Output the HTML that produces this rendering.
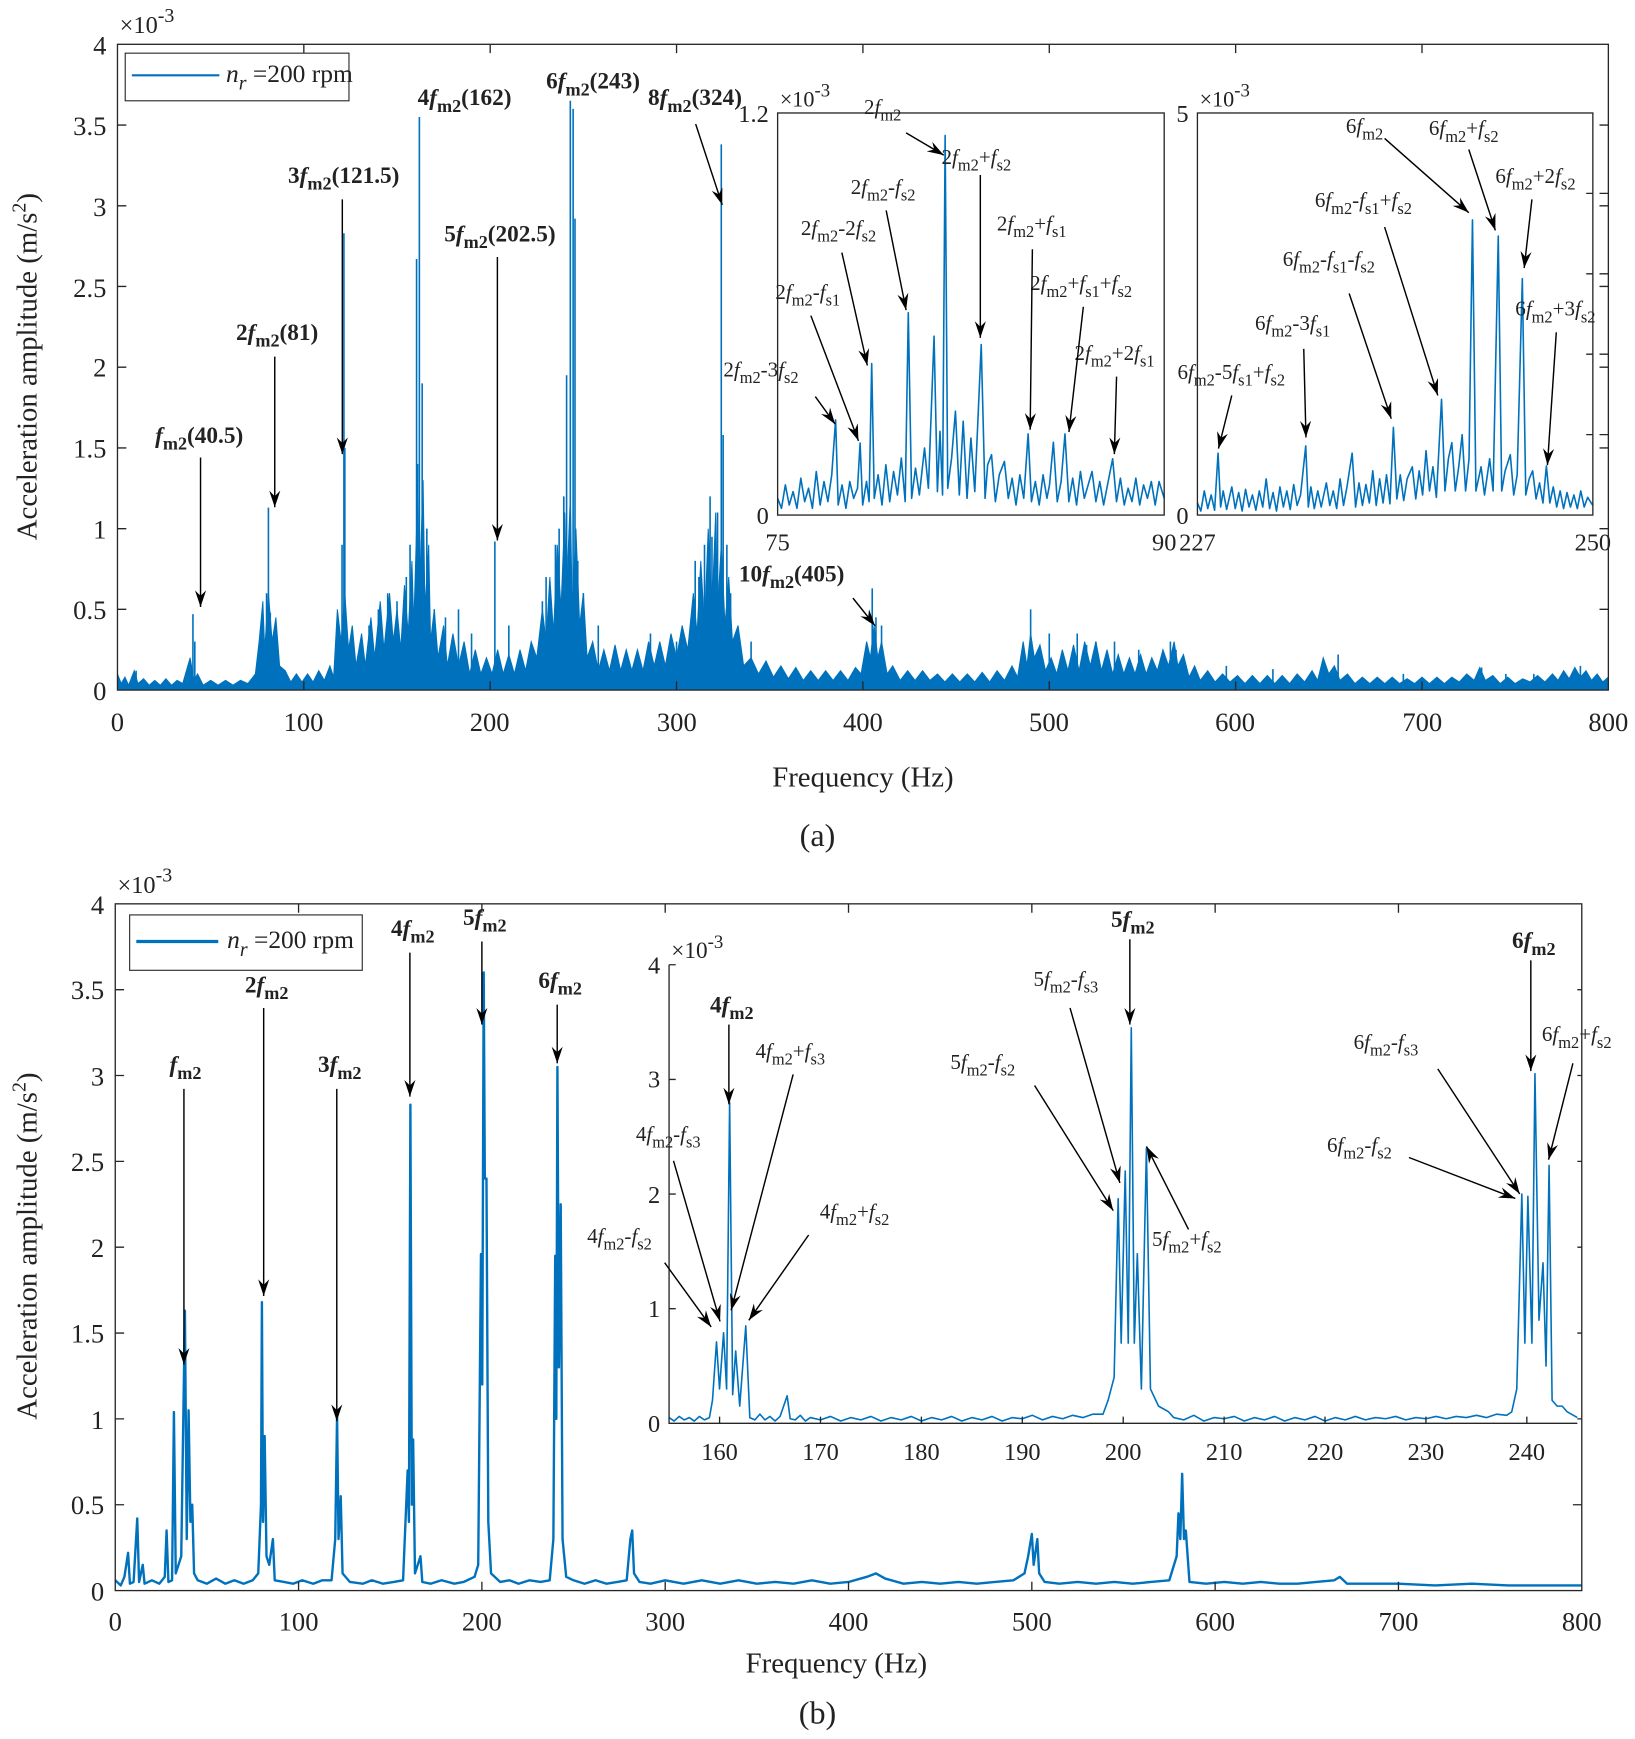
<!DOCTYPE html>
<html><head><meta charset="utf-8"><style>
html,body{margin:0;padding:0;background:#fff}
svg{display:block}
text{font-family:"Liberation Serif",serif;fill:#222}
.i{font-style:italic}
.s{font-size:0.78em}
.a{font-size:19px}
.b{font-size:21px;font-weight:bold}
.tk{font-size:24px}
.tk2{font-size:22px}
.ar{stroke:#000;stroke-width:1.3;fill:none}
.dl{fill:none;stroke:#0072BD;stroke-width:1.6;vector-effect:non-scaling-stroke;stroke-linejoin:round}
.dl2{fill:none;stroke:#0072BD;stroke-width:2.4;vector-effect:non-scaling-stroke;stroke-linejoin:round}
.ax{fill:none;stroke:#262626;stroke-width:1.2}
</style></head><body>
<svg width="1635" height="1739" viewBox="0 0 1476 1570" xmlns="http://www.w3.org/2000/svg">
<defs>
<marker id="m" markerUnits="userSpaceOnUse" markerWidth="16" markerHeight="12" refX="15" refY="6" orient="auto">
<path d="M0,1 L15,6 L0,11 L5,6 Z" fill="#000"/>
</marker>
</defs>

<!-- ================= (a) ================= -->
<g transform="translate(106,623) scale(1.6825,-145.75)">
<polygon fill="#0072BD" stroke="#0072BD" stroke-width="1" vector-effect="non-scaling-stroke" points="0,.1 2,.04 4,.08 6,.03 9,.12 11,.04 14,.07 17,.03 20,.06 23,.03 26,.07 29,.03 32,.06 35,.04 37,.12 39,.2 41,.06 43,.1 46,.03 50,.06 54,.03 58,.06 62,.03 66,.06 70,.04 74,.1 76,.3 78,.55 79,.25 81,.6 83,.3 85,.45 87,.15 90,.12 93,.05 96,.1 99,.05 102,.1 105,.05 108,.12 111,.06 114,.15 116,.08 118,.5 120,.3 122,.6 124,.25 126,.4 128,.15 131,.35 133,.15 136,.45 138,.2 141,.55 143,.25 146,.6 148,.3 150,.5 152,.25 154,.65 156,.35 158,.8 159,.4 161,1.2 162,.6 164,1.3 165,.5 167,.9 168,.3 170,.5 172,.2 175,.4 177,.15 180,.35 183,.15 186,.3 189,.1 192,.25 195,.1 198,.2 201,.1 204,.25 207,.1 210,.22 213,.1 216,.25 219,.12 222,.3 225,.2 228,.5 230,.3 232,.7 234,.35 236,.9 238,.5 240,1.1 241,.6 243,1.2 244,.5 246,1.0 248,.4 250,.6 252,.2 255,.3 258,.12 261,.25 264,.12 267,.28 270,.12 273,.25 276,.12 279,.25 282,.12 285,.3 288,.15 291,.3 294,.15 297,.35 300,.2 303,.4 306,.25 309,.6 311,.35 313,.8 315,.4 317,1.0 319,.5 321,1.1 322,.5 324,.9 326,.4 328,.7 330,.3 333,.4 336,.15 340,.2 344,.1 348,.18 352,.08 356,.15 360,.07 364,.14 368,.06 372,.12 376,.06 380,.12 384,.06 388,.12 392,.06 396,.14 399,.1 402,.3 404,.2 406,.4 408,.2 410,.3 413,.1 416,.15 420,.06 424,.12 428,.06 432,.12 436,.06 440,.1 444,.05 448,.1 452,.05 456,.1 460,.05 464,.11 468,.05 472,.12 476,.06 480,.15 483,.08 486,.3 488,.15 490,.35 492,.2 495,.28 498,.12 501,.2 504,.1 507,.25 510,.12 513,.28 516,.12 519,.3 522,.15 525,.3 528,.12 531,.25 534,.1 537,.22 540,.1 543,.2 546,.1 549,.22 552,.1 555,.2 558,.12 561,.25 564,.15 567,.3 569,.15 572,.22 575,.08 578,.15 581,.06 585,.12 589,.05 593,.1 597,.05 601,.09 605,.04 609,.09 613,.04 617,.09 621,.04 625,.09 629,.04 633,.1 637,.05 641,.12 644,.06 647,.2 650,.1 653,.15 656,.06 660,.1 664,.04 668,.08 672,.04 676,.08 680,.04 684,.08 688,.04 692,.07 696,.04 700,.08 704,.04 708,.08 712,.04 716,.08 720,.05 724,.1 728,.06 731,.14 734,.06 738,.09 742,.04 746,.08 750,.04 754,.07 758,.05 762,.09 766,.05 770,.1 773,.06 776,.12 779,.07 782,.14 785,.08 788,.12 791,.06 794,.1 797,.05 800,.08 800,0 0,0"/>
<path class="dl" d="M40.5 0V.47M41.5 0V.3M81 0V1.13M80 0V.6M82 0V.48M121.5 0V2.83M122 0V1.5M120.5 0V.9M162 0V3.55M160.5 0V2.67M163.5 0V1.9M161 0V1.4M202.5 0V.92M243 0V3.65M244.5 0V3.6M245.5 0V2.92M241 0V1.95M239.5 0V1.2M324 0V3.38M325 0V1.58M322 0V1.1M319 0V.95M405 0V.63M407 0V.45M490 0V.5M10 0V.12M568 0V.25M525 0V.3M548 0V.25M655 0V.22M176 0V.45M150 0V.55M190 0V.35M300 0V.3M140 0V.5M145 0V.6M155 0V.7M135 0V.4M230 0V.7M235 0V.9M310 0V.8M315 0V.9M183 0V.5M210 0V.4M258 0V.4M286 0V.35M340 0V.3M500 0V.35M515 0V.35M535 0V.3M745 0V.1M732 0V.14M785 0V.15M170 0V.5M228 0V.55M250 0V.6M318 0V1.2M327 0V.9M410 0V.4M520 0V.28M565 0V.3M595 0V.15M620 0V.13M690 0V.1M760 0V.1M157 0V.9M166 0V1.0M237 0V1.0M247 0V.8M312 0V.7M329 0V.6"/>
</g>
<rect class="ax" x="106" y="40" width="1346" height="583"/>
<path class="ax" d="M274.25 623v-8M442.5 623v-8M610.75 623v-8M779 623v-8M947.25 623v-8M1115.5 623v-8M1283.75 623v-8M274.25 40v8M442.5 40v8M610.75 40v8M779 40v8M947.25 40v8M1115.5 40v8M1283.75 40v8M106 550.1h8M106 477.3h8M106 404.4h8M106 331.5h8M106 258.6h8M106 185.8h8M106 112.9h8M1452 550.1h-8M1452 477.3h-8M1452 404.4h-8M1452 331.5h-8M1452 258.6h-8M1452 185.8h-8M1452 112.9h-8"/>
<g class="tk" text-anchor="middle">
<text x="106" y="660">0</text><text x="274" y="660">100</text><text x="442" y="660">200</text><text x="611" y="660">300</text><text x="779" y="660">400</text><text x="947" y="660">500</text><text x="1115" y="660">600</text><text x="1284" y="660">700</text><text x="1452" y="660">800</text>
</g>
<g class="tk" text-anchor="end">
<text x="96" y="632">0</text><text x="96" y="559">0.5</text><text x="96" y="486">1</text><text x="96" y="413">1.5</text><text x="96" y="340">2</text><text x="96" y="268">2.5</text><text x="96" y="195">3</text><text x="96" y="122">3.5</text><text x="96" y="49">4</text>
</g>
<text x="108" y="30" font-size="22">×10<tspan dy="-10" font-size="18">-3</tspan></text>
<rect x="113" y="48" width="202" height="43" fill="#fff" stroke="#262626"/>
<line x1="119" y1="68" x2="198" y2="68" stroke="#0072BD" stroke-width="2"/>
<text x="204" y="74" font-size="23"><tspan class="i">n</tspan><tspan class="i s" dy="7">r</tspan><tspan dy="-7"> =200 rpm</tspan></text>
<text x="779" y="710" font-size="26" text-anchor="middle">Frequency (Hz)</text>
<text x="33" y="331" font-size="26" text-anchor="middle" transform="rotate(-90 33 331)">Acceleration amplitude (m/s<tspan dy="-10" font-size="18">2</tspan><tspan dy="10">)</tspan></text>
<text x="738" y="764" font-size="29" text-anchor="middle">(a)</text>

<g class="b">
<text x="140" y="400"><tspan class="i">f</tspan><tspan class="s" dy="6">m2</tspan><tspan dy="-6">(40.5)</tspan></text>
<text x="213" y="307">2<tspan class="i">f</tspan><tspan class="s" dy="6">m2</tspan><tspan dy="-6">(81)</tspan></text>
<text x="260" y="165">3<tspan class="i">f</tspan><tspan class="s" dy="6">m2</tspan><tspan dy="-6">(121.5)</tspan></text>
<text x="377" y="95">4<tspan class="i">f</tspan><tspan class="s" dy="6">m2</tspan><tspan dy="-6">(162)</tspan></text>
<text x="401" y="218">5<tspan class="i">f</tspan><tspan class="s" dy="6">m2</tspan><tspan dy="-6">(202.5)</tspan></text>
<text x="493" y="80">6<tspan class="i">f</tspan><tspan class="s" dy="6">m2</tspan><tspan dy="-6">(243)</tspan></text>
<text x="585" y="95">8<tspan class="i">f</tspan><tspan class="s" dy="6">m2</tspan><tspan dy="-6">(324)</tspan></text>
<text x="667" y="525">10<tspan class="i">f</tspan><tspan class="s" dy="6">m2</tspan><tspan dy="-6">(405)</tspan></text>
</g>
<g class="ar" marker-end="url(#m)">
<line x1="181" y1="413" x2="181" y2="548"/><line x1="248" y1="322" x2="248" y2="458"/><line x1="309" y1="180" x2="309" y2="410"/><line x1="449" y1="232" x2="449" y2="488"/><line x1="628" y1="112" x2="652" y2="185"/><line x1="770" y1="540" x2="790" y2="565"/>
</g>

<!-- inset a1 -->
<rect x="702" y="102" width="349" height="363" fill="#fff"/>
<g transform="translate(702,465) scale(23.267,-302.5)">
<polyline class="dl" points="0,.05 .15,.02 .3,.09 .45,.03 .6,.07 .75,.02 .9,.11 1.05,.04 1.2,.08 1.35,.02 1.5,.13 1.65,.03 1.8,.1 1.95,.04 2.1,.12 2.25,.284 2.35,.03 2.5,.09 2.65,.02 2.8,.1 2.95,.05 3.1,.08 3.2,.215 3.3,.03 3.45,.1 3.55,.04 3.65,.452 3.75,.05 3.9,.12 4.05,.03 4.2,.15 4.35,.04 4.5,.13 4.65,.06 4.8,.17 4.95,.04 5.07,.604 5.2,.05 5.35,.14 5.5,.06 5.7,.2 5.85,.08 6.07,.534 6.2,.07 6.3,.25 6.4,.06 6.5,1.133 6.6,.08 6.75,.17 6.9,.31 7.05,.06 7.2,.28 7.35,.05 7.5,.23 7.65,.07 7.9,.509 8.05,.05 8.15,.15 8.3,.18 8.45,.04 8.6,.12 8.8,.16 8.95,.05 9.1,.11 9.25,.03 9.4,.12 9.55,.05 9.72,.242 9.85,.04 10,.1 10.15,.03 10.3,.12 10.45,.05 10.55,.09 10.7,.217 10.85,.04 11,.1 11.15,.242 11.3,.04 11.45,.11 11.6,.03 11.75,.13 11.9,.05 12.05,.09 12.2,.13 12.35,.04 12.5,.1 12.65,.03 12.8,.09 13,.168 13.15,.04 13.3,.11 13.45,.03 13.6,.08 13.75,.04 13.9,.11 14.05,.03 14.2,.09 14.35,.05 14.5,.1 14.65,.03 14.8,.1 15,.05"/>
</g>
<rect class="ax" x="702" y="102" width="349" height="363"/>
<g class="tk2"><text x="694" y="473" text-anchor="end">0</text><text x="694" y="110" text-anchor="end">1.2</text><text x="702" y="497" text-anchor="middle">75</text><text x="1051" y="497" text-anchor="middle">90</text></g>
<text x="704" y="96" font-size="20">×10<tspan dy="-9" font-size="17">-3</tspan></text>
<g class="a">
<text x="780" y="103">2<tspan class="i">f</tspan><tspan class="s" dy="6">m2</tspan></text>
<text x="850" y="148">2<tspan class="i">f</tspan><tspan class="s" dy="6">m2</tspan><tspan dy="-6">+</tspan><tspan class="i">f</tspan><tspan class="s" dy="6">s2</tspan></text>
<text x="768" y="175">2<tspan class="i">f</tspan><tspan class="s" dy="6">m2</tspan><tspan dy="-6">-</tspan><tspan class="i">f</tspan><tspan class="s" dy="6">s2</tspan></text>
<text x="723" y="212">2<tspan class="i">f</tspan><tspan class="s" dy="6">m2</tspan><tspan dy="-6">-2</tspan><tspan class="i">f</tspan><tspan class="s" dy="6">s2</tspan></text>
<text x="900" y="208">2<tspan class="i">f</tspan><tspan class="s" dy="6">m2</tspan><tspan dy="-6">+</tspan><tspan class="i">f</tspan><tspan class="s" dy="6">s1</tspan></text>
<text x="700" y="270">2<tspan class="i">f</tspan><tspan class="s" dy="6">m2</tspan><tspan dy="-6">-</tspan><tspan class="i">f</tspan><tspan class="s" dy="6">s1</tspan></text>
<text x="930" y="262">2<tspan class="i">f</tspan><tspan class="s" dy="6">m2</tspan><tspan dy="-6">+</tspan><tspan class="i">f</tspan><tspan class="s" dy="6">s1</tspan><tspan dy="-6">+</tspan><tspan class="i">f</tspan><tspan class="s" dy="6">s2</tspan></text>
<text x="970" y="325">2<tspan class="i">f</tspan><tspan class="s" dy="6">m2</tspan><tspan dy="-6">+2</tspan><tspan class="i">f</tspan><tspan class="s" dy="6">s1</tspan></text>
<text x="653" y="340">2<tspan class="i">f</tspan><tspan class="s" dy="6">m2</tspan><tspan dy="-6">-3</tspan><tspan class="i">f</tspan><tspan class="s" dy="6">s2</tspan></text>
</g>
<g class="ar" marker-end="url(#m)">
<line x1="818" y1="120" x2="852" y2="140"/><line x1="885" y1="158" x2="885" y2="305"/><line x1="800" y1="190" x2="818" y2="280"/><line x1="760" y1="228" x2="783" y2="330"/><line x1="932" y1="225" x2="930" y2="388"/><line x1="732" y1="285" x2="775" y2="398"/><line x1="978" y1="277" x2="965" y2="390"/><line x1="1008" y1="340" x2="1006" y2="410"/><line x1="736" y1="358" x2="754" y2="383"/>
</g>

<!-- inset a2 -->
<rect x="1081" y="102" width="357" height="363" fill="#fff"/>
<g transform="translate(1081,465) scale(15.52,-72.6)">
<polyline class="dl" points="0,.15 .2,.05 .4,.3 .6,.08 .8,.25 1,.06 1.2,.77 1.35,.1 1.5,.3 1.7,.07 2,.35 2.2,.08 2.4,.28 2.6,.05 2.8,.32 3,.1 3.2,.25 3.4,.06 3.6,.3 3.8,.1 4,.45 4.2,.08 4.4,.28 4.6,.05 4.8,.35 5,.1 5.2,.3 5.4,.07 5.6,.38 5.8,.12 6,.25 6.3,.86 6.45,.1 6.6,.35 6.8,.08 7,.3 7.2,.1 7.5,.4 7.7,.12 7.9,.3 8.1,.08 8.3,.45 8.5,.12 8.7,.35 9,.77 9.2,.1 9.4,.4 9.6,.12 9.8,.38 10,.15 10.2,.55 10.4,.12 10.6,.45 10.8,.15 11,.5 11.2,.14 11.4,1.09 11.6,.2 11.8,.5 12,.18 12.2,.45 12.5,.6 12.7,.2 12.9,.55 13.1,.25 13.3,.8 13.5,.3 13.7,.6 13.9,.22 14.2,1.44 14.4,.3 14.6,.7 14.8,.9 15,.3 15.2,.6 15.4,1.0 15.6,.3 15.8,.7 16,3.67 16.2,.3 16.5,.6 16.7,.25 17,.7 17.2,.3 17.5,3.47 17.7,.3 17.9,.55 18.2,.75 18.4,.25 18.6,.5 18.9,2.94 19.1,.25 19.3,.45 19.5,.55 19.7,.2 19.9,.4 20.1,.15 20.3,.61 20.5,.15 20.7,.35 20.9,.1 21.1,.3 21.3,.08 21.5,.28 21.7,.1 21.9,.25 22.1,.08 22.3,.3 22.5,.1 22.7,.22 23,.12"/>
</g>
<rect class="ax" x="1081" y="102" width="357" height="363"/>
<path class="ax" d="M1438 392.4h-6M1438 319.8h-6M1438 247.2h-6M1438 174.6h-6M1452 392.4h-8M1452 319.8h-8M1452 247.2h-8M1452 174.6h-8"/>
<g class="tk2"><text x="1073" y="473" text-anchor="end">0</text><text x="1073" y="110" text-anchor="end">5</text><text x="1081" y="497" text-anchor="middle">227</text><text x="1438" y="497" text-anchor="middle">250</text></g>
<text x="1083" y="96" font-size="20">×10<tspan dy="-9" font-size="17">-3</tspan></text>
<g class="a">
<text x="1215" y="120">6<tspan class="i">f</tspan><tspan class="s" dy="6">m2</tspan></text>
<text x="1290" y="122">6<tspan class="i">f</tspan><tspan class="s" dy="6">m2</tspan><tspan dy="-6">+</tspan><tspan class="i">f</tspan><tspan class="s" dy="6">s2</tspan></text>
<text x="1350" y="165">6<tspan class="i">f</tspan><tspan class="s" dy="6">m2</tspan><tspan dy="-6">+2</tspan><tspan class="i">f</tspan><tspan class="s" dy="6">s2</tspan></text>
<text x="1187" y="187">6<tspan class="i">f</tspan><tspan class="s" dy="6">m2</tspan><tspan dy="-6">-</tspan><tspan class="i">f</tspan><tspan class="s" dy="6">s1</tspan><tspan dy="-6">+</tspan><tspan class="i">f</tspan><tspan class="s" dy="6">s2</tspan></text>
<text x="1158" y="240">6<tspan class="i">f</tspan><tspan class="s" dy="6">m2</tspan><tspan dy="-6">-</tspan><tspan class="i">f</tspan><tspan class="s" dy="6">s1</tspan><tspan dy="-6">-</tspan><tspan class="i">f</tspan><tspan class="s" dy="6">s2</tspan></text>
<text x="1133" y="298">6<tspan class="i">f</tspan><tspan class="s" dy="6">m2</tspan><tspan dy="-6">-3</tspan><tspan class="i">f</tspan><tspan class="s" dy="6">s1</tspan></text>
<text x="1368" y="285">6<tspan class="i">f</tspan><tspan class="s" dy="6">m2</tspan><tspan dy="-6">+3</tspan><tspan class="i">f</tspan><tspan class="s" dy="6">s2</tspan></text>
<text x="1063" y="342">6<tspan class="i">f</tspan><tspan class="s" dy="6">m2</tspan><tspan dy="-6">-5</tspan><tspan class="i">f</tspan><tspan class="s" dy="6">s1</tspan><tspan dy="-6">+</tspan><tspan class="i">f</tspan><tspan class="s" dy="6">s2</tspan></text>
</g>
<g class="ar" marker-end="url(#m)">
<line x1="1250" y1="125" x2="1326" y2="192"/><line x1="1326" y1="135" x2="1350" y2="208"/><line x1="1383" y1="180" x2="1376" y2="242"/><line x1="1250" y1="205" x2="1298" y2="357"/><line x1="1218" y1="265" x2="1256" y2="378"/><line x1="1177" y1="315" x2="1179" y2="395"/><line x1="1405" y1="300" x2="1397" y2="420"/><line x1="1112" y1="357" x2="1100" y2="405"/>
</g>

<!-- ================= (b) ================= -->
<g transform="translate(104,1436) scale(1.655,-155)">
<polyline class="dl2" points="0,.06 3,.03 5,.08 7,.22 8,.04 10,.05 12,.42 13,.05 15,.15 16,.04 20,.06 24,.04 27,.08 28,.35 29,.05 31,.06 32,1.04 33,.1 36,.2 38,1.63 39,.3 40,1.05 41,.4 42,.5 43,.1 45,.06 50,.04 55,.07 60,.04 65,.06 70,.04 75,.06 78,.1 79.5,.5 80,1.68 80.6,.4 81.5,.9 82.5,.2 84,.15 86,.3 87,.06 92,.05 97,.04 102,.06 108,.04 113,.06 118,.06 120,.3 121,1.02 121.8,.3 123,.55 124,.1 128,.05 135,.04 140,.06 146,.04 152,.05 157,.06 159.5,.7 160.2,.4 161,2.83 161.8,.5 162.5,.88 163.5,.1 166.5,.2 167.5,.05 172,.04 178,.06 185,.04 190,.05 196,.08 198,.15 199.5,1.96 200.2,1.2 201,3.6 201.6,2.4 202.5,2.4 203.5,.4 205,.1 210,.05 215,.06 220,.04 226,.06 232,.05 237,.06 239,.3 240,1.95 240.6,1.0 241.2,3.05 242,1.3 243,2.25 244,.3 246,.08 250,.06 256,.04 262,.06 268,.04 274,.05 279,.06 281,.3 282,.35 283,.1 286,.05 292,.04 300,.06 310,.04 320,.06 330,.04 340,.06 350,.04 360,.05 370,.04 380,.06 390,.04 400,.05 410,.08 415,.1 420,.07 430,.04 440,.05 450,.04 460,.05 470,.04 480,.05 490,.06 496,.1 498,.2 500,.33 501,.15 503,.3 504,.1 507,.05 515,.04 525,.05 535,.04 545,.05 555,.04 565,.05 575,.06 579,.2 580,.45 581,.3 582,.68 583,.3 584,.35 586,.05 595,.04 605,.05 615,.04 625,.05 635,.04 645,.04 655,.05 665,.06 668,.08 672,.04 685,.04 700,.04 720,.03 740,.04 760,.03 780,.03 800,.03"/>
</g>
<rect class="ax" x="104" y="816" width="1324" height="620"/>
<path class="ax" d="M269.5 1436v-8M435 1436v-8M600.5 1436v-8M766 1436v-8M931.5 1436v-8M1097 1436v-8M1262.5 1436v-8M269.5 816v8M435 816v8M600.5 816v8M766 816v8M931.5 816v8M1097 816v8M1262.5 816v8M104 1358.5h8M104 1281h8M104 1203.5h8M104 1126h8M104 1048.5h8M104 971h8M104 893.5h8M1428 1358.5h-8M1428 1281h-8M1428 1203.5h-8M1428 1126h-8M1428 1048.5h-8M1428 971h-8M1428 893.5h-8"/>
<g class="tk" text-anchor="middle">
<text x="104" y="1472">0</text><text x="269.5" y="1472">100</text><text x="435" y="1472">200</text><text x="600.5" y="1472">300</text><text x="766" y="1472">400</text><text x="931.5" y="1472">500</text><text x="1097" y="1472">600</text><text x="1262.5" y="1472">700</text><text x="1428" y="1472">800</text>
</g>
<g class="tk" text-anchor="end">
<text x="94" y="1445">0</text><text x="94" y="1367">0.5</text><text x="94" y="1290">1</text><text x="94" y="1212">1.5</text><text x="94" y="1135">2</text><text x="94" y="1057">2.5</text><text x="94" y="980">3</text><text x="94" y="902">3.5</text><text x="94" y="825">4</text>
</g>
<text x="106" y="806" font-size="22">×10<tspan dy="-10" font-size="18">-3</tspan></text>
<rect x="117" y="826" width="210" height="50" fill="#fff" stroke="#262626"/>
<line x1="123" y1="850" x2="197" y2="850" stroke="#0072BD" stroke-width="3"/>
<text x="205" y="856" font-size="23"><tspan class="i">n</tspan><tspan class="i s" dy="7">r</tspan><tspan dy="-7"> =200 rpm</tspan></text>
<text x="755" y="1510" font-size="26" text-anchor="middle">Frequency (Hz)</text>
<text x="33" y="1125" font-size="26" text-anchor="middle" transform="rotate(-90 33 1125)">Acceleration amplitude (m/s<tspan dy="-10" font-size="18">2</tspan><tspan dy="10">)</tspan></text>
<text x="738" y="1556" font-size="29" text-anchor="middle">(b)</text>
<g class="b">
<text x="153" y="968"><tspan class="i">f</tspan><tspan class="s" dy="6">m2</tspan></text>
<text x="221" y="896">2<tspan class="i">f</tspan><tspan class="s" dy="6">m2</tspan></text>
<text x="287" y="968">3<tspan class="i">f</tspan><tspan class="s" dy="6">m2</tspan></text>
<text x="353" y="845">4<tspan class="i">f</tspan><tspan class="s" dy="6">m2</tspan></text>
<text x="418" y="835">5<tspan class="i">f</tspan><tspan class="s" dy="6">m2</tspan></text>
<text x="486" y="892">6<tspan class="i">f</tspan><tspan class="s" dy="6">m2</tspan></text>
</g>
<g class="ar" marker-end="url(#m)">
<line x1="166" y1="983" x2="166" y2="1232"/><line x1="238" y1="910" x2="238" y2="1170"/><line x1="304" y1="983" x2="304" y2="1283"/><line x1="370" y1="860" x2="370" y2="990"/><line x1="435" y1="850" x2="435" y2="925"/><line x1="503" y1="907" x2="503" y2="960"/>
</g>

<!-- inset b -->
<rect x="604" y="866" width="820" height="419" fill="#fff"/>
<g transform="translate(604,1285) scale(9.111,-103.5)">
<polyline class="dl" points="0,.05 .5,.02 1,.06 1.5,.03 2,.05 2.5,.02 3,.06 3.5,.03 4,.05 4.3,.2 4.7,.71 5,.3 5.4,.79 5.7,.3 6,2.8 6.3,.25 6.6,.63 7,.15 7.6,.85 8,.05 8.5,.03 9,.08 9.5,.03 10,.06 10.5,.02 11,.06 11.7,.24 12,.04 12.5,.03 13,.07 13.5,.02 14,.05 15,.03 16,.06 17,.02 18,.05 19,.03 20,.06 21,.02 22,.05 23,.03 24,.06 25,.02 26,.05 27,.03 28,.06 29,.02 30,.05 31,.03 32,.06 33,.02 34,.05 35,.04 36,.07 37,.03 38,.06 39,.04 40,.07 41,.05 42,.08 43,.08 43.5,.2 44.1,.4 44.5,1.96 44.8,.7 45.2,2.2 45.5,.7 45.8,3.45 46.1,.7 46.4,1.48 46.8,.3 47.3,2.4 47.7,.3 48.5,.15 49.5,.1 50,.05 51,.03 52,.07 53,.02 54,.05 55,.04 56,.06 57,.02 58,.05 59,.03 60,.06 61,.02 62,.05 63,.03 64,.06 65,.02 66,.05 67,.03 68,.06 69,.03 70,.05 71,.04 72,.06 73,.03 74,.05 75,.04 76,.06 77,.04 78,.06 79,.05 80,.07 81,.05 82,.08 83,.07 83.5,.1 84,.3 84.5,2.0 84.8,.7 85.1,1.98 85.5,.7 85.8,3.05 86.2,.9 86.6,1.4 86.9,.5 87.2,2.25 87.5,.2 88,.15 88.5,.15 89,.1 90,.05"/>
</g>
<path class="ax" d="M604 871V1285H1424M649.6 1285v-6M740.7 1285v-6M831.8 1285v-6M922.9 1285v-6M1014 1285v-6M1105.1 1285v-6M1196.2 1285v-6M1287.3 1285v-6M1378.4 1285v-6M604 1181.5h6M604 1078h6M604 974.5h6M604 871h6"/>
<g class="tk2" text-anchor="middle">
<text x="649.6" y="1318">160</text><text x="740.7" y="1318">170</text><text x="831.8" y="1318">180</text><text x="922.9" y="1318">190</text><text x="1014" y="1318">200</text><text x="1105.1" y="1318">210</text><text x="1196.2" y="1318">220</text><text x="1287.3" y="1318">230</text><text x="1378.4" y="1318">240</text>
</g>
<g class="tk2" text-anchor="end">
<text x="596" y="1293">0</text><text x="596" y="1189">1</text><text x="596" y="1086">2</text><text x="596" y="982">3</text><text x="596" y="879">4</text>
</g>
<text x="606" y="865" font-size="21">×10<tspan dy="-9" font-size="17">-3</tspan></text>
<g class="b">
<text x="641" y="914">4<tspan class="i">f</tspan><tspan class="s" dy="6">m2</tspan></text>
<text x="1003" y="837">5<tspan class="i">f</tspan><tspan class="s" dy="6">m2</tspan></text>
<text x="1365" y="856">6<tspan class="i">f</tspan><tspan class="s" dy="6">m2</tspan></text>
</g>
<g class="a">
<text x="682" y="955">4<tspan class="i">f</tspan><tspan class="s" dy="6">m2</tspan><tspan dy="-6">+</tspan><tspan class="i">f</tspan><tspan class="s" dy="6">s3</tspan></text>
<text x="574" y="1030">4<tspan class="i">f</tspan><tspan class="s" dy="6">m2</tspan><tspan dy="-6">-</tspan><tspan class="i">f</tspan><tspan class="s" dy="6">s3</tspan></text>
<text x="740" y="1100">4<tspan class="i">f</tspan><tspan class="s" dy="6">m2</tspan><tspan dy="-6">+</tspan><tspan class="i">f</tspan><tspan class="s" dy="6">s2</tspan></text>
<text x="530" y="1122">4<tspan class="i">f</tspan><tspan class="s" dy="6">m2</tspan><tspan dy="-6">-</tspan><tspan class="i">f</tspan><tspan class="s" dy="6">s2</tspan></text>
<text x="933" y="890">5<tspan class="i">f</tspan><tspan class="s" dy="6">m2</tspan><tspan dy="-6">-</tspan><tspan class="i">f</tspan><tspan class="s" dy="6">s3</tspan></text>
<text x="858" y="965">5<tspan class="i">f</tspan><tspan class="s" dy="6">m2</tspan><tspan dy="-6">-</tspan><tspan class="i">f</tspan><tspan class="s" dy="6">s2</tspan></text>
<text x="1040" y="1125">5<tspan class="i">f</tspan><tspan class="s" dy="6">m2</tspan><tspan dy="-6">+</tspan><tspan class="i">f</tspan><tspan class="s" dy="6">s2</tspan></text>
<text x="1222" y="947">6<tspan class="i">f</tspan><tspan class="s" dy="6">m2</tspan><tspan dy="-6">-</tspan><tspan class="i">f</tspan><tspan class="s" dy="6">s3</tspan></text>
<text x="1198" y="1040">6<tspan class="i">f</tspan><tspan class="s" dy="6">m2</tspan><tspan dy="-6">-</tspan><tspan class="i">f</tspan><tspan class="s" dy="6">s2</tspan></text>
<text x="1392" y="940">6<tspan class="i">f</tspan><tspan class="s" dy="6">m2</tspan><tspan dy="-6">+</tspan><tspan class="i">f</tspan><tspan class="s" dy="6">s2</tspan></text>
</g>
<g class="ar" marker-end="url(#m)">
<line x1="658" y1="925" x2="658" y2="997"/><line x1="716" y1="970" x2="660" y2="1183"/><line x1="608" y1="1048" x2="650" y2="1193"/><line x1="730" y1="1115" x2="676" y2="1192"/><line x1="600" y1="1140" x2="642" y2="1198"/>
<line x1="1020" y1="848" x2="1020" y2="925"/><line x1="966" y1="910" x2="1011" y2="1068"/><line x1="934" y1="980" x2="1005" y2="1093"/><line x1="1073" y1="1110" x2="1035" y2="1035"/>
<line x1="1382" y1="867" x2="1382" y2="967"/><line x1="1298" y1="965" x2="1372" y2="1078"/><line x1="1272" y1="1045" x2="1368" y2="1082"/><line x1="1420" y1="960" x2="1398" y2="1047"/>
</g>
</svg>
</body></html>
